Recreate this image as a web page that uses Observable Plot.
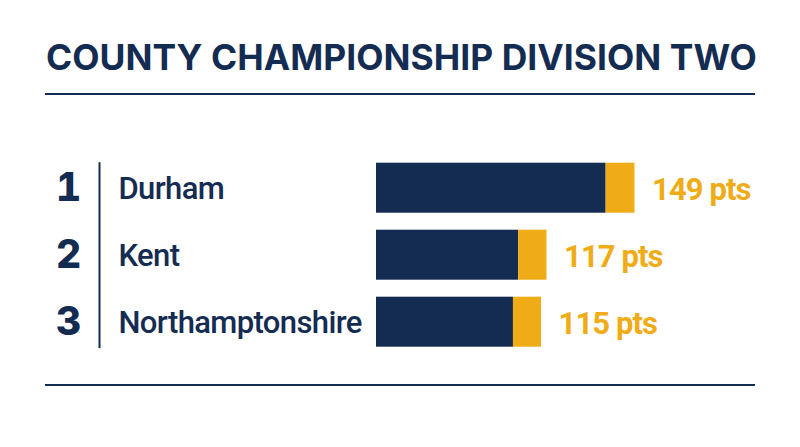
<!DOCTYPE html>
<html><head><meta charset="utf-8">
<script src="https://cdn.jsdelivr.net/npm/d3@7"></script>
<script src="https://cdn.jsdelivr.net/npm/@observablehq/plot@0.6"></script>
<style>
html,body{margin:0;padding:0;background:#fff;width:800px;height:447px;overflow:hidden}
svg{display:block}
#head{position:absolute;left:45px;top:0;width:710px;height:93px;border-bottom:2px solid #142c52;box-sizing:content-box}
#head div{position:absolute;left:1px;top:36.5px;font:700 35.4px/42px Inter,sans-serif;letter-spacing:.06px;color:#142c52;white-space:nowrap}
#c{position:absolute;left:0;top:95px}
#foot{position:absolute;left:45px;top:384px;width:710px;border-top:2px solid #142c52}
.tight text{letter-spacing:-.9px}
.tightName text{letter-spacing:-.62px}
</style>
</head><body>
<div id="head"><div>COUNTY CHAMPIONSHIP DIVISION TWO</div></div>
<div id="c"></div><div id="foot"></div>
<script>
const ranks = [1, 2, 3];
const teams = ["Durham", "Kent", "Northamptonshire"];
const totals = [149, 117, 115];
const basePts = [138.5, 106.7, 104.8];
const axisStart = 55;
const navy = "#142c52", gold = "#f0ac16";
const rows = teams.map((team,i)=>({team,rank:ranks[i],base:basePts[i],total:totals[i]}));
const chart = Plot.plot({
  width:800,height:289,marginLeft:0,marginRight:0,marginTop:67.7,marginBottom:37.3,
  x:{domain:[-81.73,209.18],range:[0,800],axis:null},
  y:{domain:teams,paddingInner:0.2537,paddingOuter:0,round:false,axis:null},
  marks:[
    Plot.frame({anchor:"left",dx:99,stroke:navy,strokeWidth:2}),
    Plot.barX(rows,{x1:axisStart,x2:"base",y:"team",fill:navy}),
    Plot.barX(rows,{x1:"base",x2:"total",y:"team",fill:gold}),
    Plot.text(rows,{y:"team",text:"rank",frameAnchor:"left",dx:68,dy:0,textAnchor:"middle",fill:navy,fontFamily:"Inter, sans-serif",fontWeight:800,fontSize:39}),
    Plot.text(rows,{y:"team",text:"team",frameAnchor:"left",dx:118,dy:1,textAnchor:"start",fill:navy,fontFamily:"Roboto, sans-serif",fontWeight:500,fontSize:31,className:"tightName"}),
    Plot.text(rows,{x:"total",y:"team",text:d=>d.total+" pts",dx:17,dy:2,textAnchor:"start",fill:gold,fontFamily:"Roboto, sans-serif",fontWeight:700,fontSize:31,className:"tight"})
  ]
});
document.getElementById("c").append(chart);
</script></body></html>
